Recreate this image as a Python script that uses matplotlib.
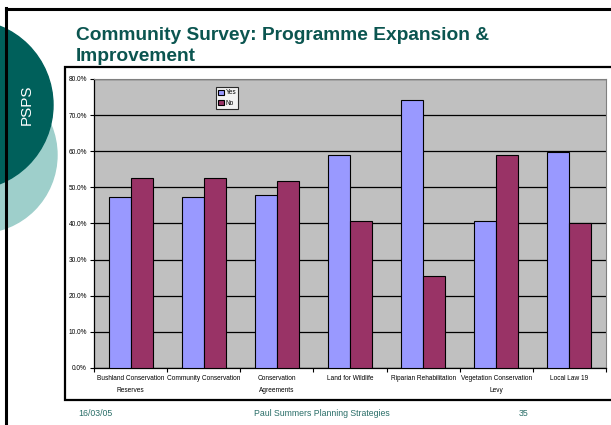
import matplotlib
matplotlib.use("Agg")
import matplotlib.pyplot as plt
from matplotlib.patches import Rectangle, Circle
import numpy as np

categories = ["Bushland Conservation\nReserves", "Community Conservation",
              "Conservation\nAgreements", "Land for Wildlife",
              "Riparian Rehabilitation", "Vegetation Conservation\nLevy",
              "Local Law 19"]
yes_vals = [47.4, 47.4, 48.0, 59.1, 74.2, 40.8, 59.8]
no_vals = [52.6, 52.6, 51.9, 40.7, 25.6, 59.1, 40.1]
series_names = ["Yes", "No"]
yticks = [0, 10, 20, 30, 40, 50, 60, 70, 80]
title_lines = ["Community Survey: Programme Expansion &", "Improvement"]

plt.rcParams['font.family'] = ['Liberation Sans', 'DejaVu Sans']

W, H = 611, 425
fig = plt.figure(figsize=(W / 100, H / 100), dpi=100)
fig.patch.set_facecolor('white')

def fx(x):
    return x / W

def fy(y):
    return 1 - y / H

# slide decorations
deco = fig.add_axes([0, 0, 1, 1])
deco.set_xlim(0, W)
deco.set_ylim(H, 0)
deco.axis('off')
deco.add_patch(Circle((-21, 155), 78, color='#9ECFCB', zorder=1))
deco.add_patch(Circle((-32, 105), 85, color='#00605B', zorder=2))
deco.plot([6, 6], [8, H], color='black', lw=2.2, zorder=3)
deco.plot([6, W], [9, 9], color='black', lw=2.2, zorder=3)
deco.text(27, 105, "PSPS", rotation=90, color='white', fontsize=11,
          ha='center', va='center', zorder=4)
deco.text(75.5, 40, title_lines[0], color='#0B5550', fontsize=13.8,
          fontweight='bold', ha='left', va='baseline', zorder=4)
deco.text(75.5, 60.5, title_lines[1], color='#0B5550', fontsize=13.8,
          fontweight='bold', ha='left', va='baseline', zorder=4)
# chart frame
deco.add_patch(Rectangle((65, 67), W, 333, facecolor='white',
                         edgecolor='black', lw=1.6, zorder=3))
# footer
fcol = '#2A6E68'
deco.text(95, 413, "16/03/05", color=fcol, fontsize=6.3, ha='center', va='center')
deco.text(322, 413, "Paul Summers Planning Strategies", color=fcol, fontsize=6.3,
          ha='center', va='center')
deco.text(524, 413, "35", color=fcol, fontsize=6.3, ha='center', va='center')

# chart
L, R, T, B = 94, 606, 79, 368
ax = fig.add_axes([fx(L), fy(B), fx(R - L), (B - T) / H])
ax.set_facecolor('#C0C0C0')
x = np.arange(len(categories))
bw = 0.3
ax.bar(x - bw / 2, yes_vals, bw, color='#9999FF', edgecolor='black', lw=0.8,
       label=series_names[0], zorder=3)
ax.bar(x + bw / 2, no_vals, bw, color='#993366', edgecolor='black', lw=0.8,
       label=series_names[1], zorder=3)
ax.set_xlim(-0.5, len(categories) - 0.5)
ax.set_ylim(0, 80)
ax.set_yticks(yticks)
ax.set_yticklabels([f"{v:.1f}%" for v in yticks])
ax.yaxis.grid(True, color='black', lw=0.9, zorder=1)
ax.set_axisbelow(True)
ax.set_xticks(x)
ax.set_xticklabels(categories, fontsize=4.7, linespacing=2.0)
ax.set_xticks(np.arange(-0.5, len(categories), 1), minor=True)
ax.tick_params(axis='x', which='major', length=0, pad=5)
ax.tick_params(axis='x', which='minor', length=3, width=0.8, direction='out')
ax.tick_params(axis='y', length=3, width=0.8, labelsize=4.7, pad=2)
for s in ['top', 'right']:
    ax.spines[s].set_color('#808080')
    ax.spines[s].set_linewidth(0.8)
for s in ['left', 'bottom']:
    ax.spines[s].set_color('black')
    ax.spines[s].set_linewidth(0.9)

leg = ax.legend(loc='upper left', bbox_to_anchor=((216 - L) / (R - L), 1 - (87 - T) / (B - T)),
                fontsize=4.7, frameon=True, fancybox=False, handlelength=0.8,
                handleheight=0.8, handletextpad=0.3, borderpad=0.35,
                labelspacing=0.6, borderaxespad=0)
leg.get_frame().set_edgecolor('black')
leg.get_frame().set_linewidth(0.8)
leg.get_frame().set_facecolor('white')

fig.savefig("out.png", dpi=100)
